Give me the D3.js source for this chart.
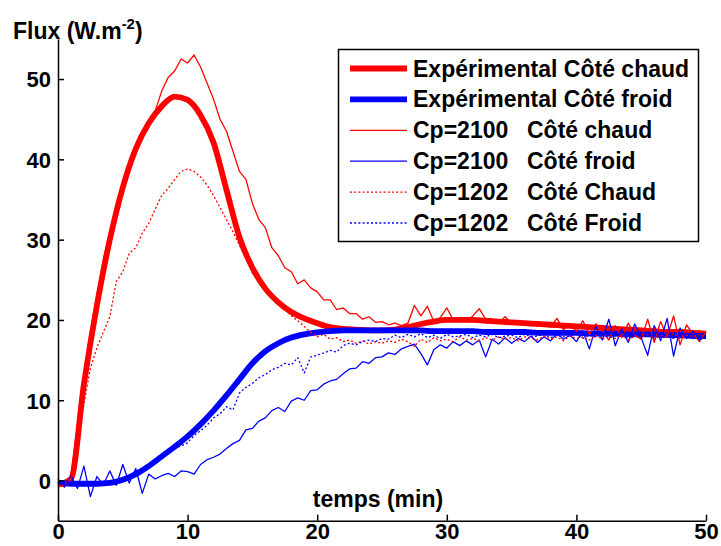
<!DOCTYPE html>
<html><head><meta charset="utf-8">
<script src="https://cdn.jsdelivr.net/npm/d3@7"></script>
<style>
body{margin:0;background:#fff}
text{font-family:"Liberation Sans",Arial,sans-serif;font-weight:bold;fill:#000}
</style>
</head><body>
<svg id="chart" width="721" height="546"></svg>
<script>
// ---------- data ----------
const xTicks = [0, 10, 20, 30, 40, 50];
const yTicks = [0, 10, 20, 30, 40, 50];
const xLabel = "temps (min)";
const yLabel = "Flux (W.m";
const yLabelSup = "-2";

// experimental series, one value per minute (0..50)
const tExp = d3.range(0, 51, 1);
const expHot = [-0.5,0.2,12,21.8,30,36.5,41.3,44.5,46.6,47.8,
  47.4,45.5,42.1,36.2,30.3,26.5,23.9,22.2,21.0,20.2,
  19.6,19.1,18.9,18.8,18.7,18.7,18.8,19.1,19.5,19.8,
  20.0,20.0,20.0,19.9,19.8,19.7,19.6,19.5,19.4,19.3,
  19.2,19.1,19.0,18.9,18.8,18.7,18.6,18.5,18.5,18.4,18.3];
const expCold = [-0.3,-0.4,-0.4,-0.4,-0.3,0.1,0.8,1.8,3.0,4.2,
  5.5,7.0,8.7,10.6,12.6,14.6,16.1,17.1,17.8,18.2,
  18.45,18.6,18.7,18.7,18.7,18.7,18.7,18.7,18.7,18.6,
  18.6,18.6,18.6,18.5,18.5,18.5,18.5,18.4,18.4,18.4,
  18.4,18.3,18.3,18.3,18.2,18.2,18.2,18.1,18.1,18.0,18.0];

// simulated series, one value per half minute (0..50)
const tSim = d3.range(0, 50.25, 0.5);
const cp2100Hot = [-0.5,-0.8,0.5,7,13,18.5,23,27.5,31,33.5,
  36.5,39,41,42.5,44.8,46,48.5,50.2,51,52.5,
  52,53,51.5,49.5,47.5,45,43.5,41,38.5,37.5,
  34.5,32.5,31.5,29,28,26.5,26,24.5,25,24,
  23.5,22.5,22.5,21.3,21.5,20.8,20.8,20.1,20.4,19.7,
  19.8,19.4,19.6,19.3,19.6,21.8,20.5,21.7,19.8,20.3,
  21.5,20.0,20.3,19.8,20.5,21.4,20.1,20.0,19.6,20.4,
  19.5,19.9,19.4,19.8,19.2,19.7,19.1,20.2,18.8,19.4,
  18.6,19.9,18.2,19.5,18.7,17.5,19.3,17.8,19.6,18.1,
  17.6,20.1,17.2,19.8,17.9,20.5,16.9,19.4,18.2,17.3,
  18.5];
const cp2100Cold = [0.2,-0.8,0.6,-1.0,1.8,-2.0,0.5,-0.5,1.2,-0.6,
  2.0,-0.3,1.5,-1.6,0.8,0.2,0.6,0.9,0.5,1.2,
  1.1,0.8,2.0,2.6,2.9,3.3,4.0,4.6,5.0,6.3,
  6.5,7.4,7.8,8.7,9.1,8.6,9.9,10.3,10.0,11.2,
  11.3,12.0,12.4,12.6,13.3,13.9,14.0,14.8,14.6,15.3,
  15.4,15.9,15.7,16.4,16.7,17.0,15.8,14.4,16.3,16.9,
  16.5,17.3,16.8,17.4,16.9,17.5,15.4,17.6,17.0,17.8,
  17.1,17.7,17.3,18.0,17.2,17.9,17.4,18.3,17.6,18.1,
  17.3,18.6,16.4,19.2,17.5,20.1,16.8,18.9,17.2,19.5,
  17.8,15.6,19.3,17.4,20.2,15.5,19.0,17.7,18.6,17.5,
  18.0];
const cp1202Hot = [-0.5,-0.6,0.3,4.5,9.5,14,16.5,18.5,20.4,24.8,
  26.0,28.3,29.0,30.8,32.0,33.8,35.5,36.4,37.5,38.5,
  38.8,38.5,37.8,36.8,35.5,34.0,32.5,31.0,29.3,27.8,
  25.8,24.8,24.2,23.1,22.3,21.4,20.5,19.9,19.2,18.4,
  17.9,18.2,17.6,17.8,17.3,17.5,17.1,17.4,17.0,17.3,
  17.1,17.4,17.2,17.6,17.3,16.7,17.6,17.2,17.8,17.4,
  17.6,17.3,17.9,17.5,17.7,17.4,17.8,17.5,17.9,17.6,
  17.8,17.4,17.9,17.7,17.5,18.0,17.6,17.9,17.4,18.0,
  17.7,17.9,17.5,18.1,17.6,18.0,17.7,18.2,17.5,18.0,
  17.8,18.2,17.6,18.1,17.8,18.3,17.7,18.1,17.9,18.2,
  18.0];
const cp1202Cold = [-0.3,-0.5,-0.3,-0.4,-0.5,-0.4,-0.4,-0.3,-0.3,-0.1,
  0.2,0.6,1.0,1.5,2.0,2.5,3.1,3.6,4.1,4.3,
  4.7,5.6,6.2,6.9,7.8,8.3,9.2,8.8,10.9,11.6,
  12.1,12.8,13.2,13.8,14.1,14.6,14.4,15.3,13.4,15.4,
  15.6,15.9,16.2,16.0,16.8,17.1,16.9,17.3,17.5,17.3,
  17.7,17.6,18.1,17.8,18.2,17.9,18.3,17.8,18.1,17.7,
  18.2,17.9,18.0,18.2,17.8,18.1,17.9,18.2,17.8,18.0,
  18.1,17.8,18.2,17.9,18.0,18.2,17.8,18.1,17.9,18.0,
  18.2,17.7,18.1,17.9,18.2,17.8,18.0,18.1,17.7,18.2,
  17.9,18.1,17.8,18.2,18.0,17.7,18.1,17.9,18.2,18.0,
  18.0];

const seriesNames = ["Expérimental Côté chaud","Expérimental Côté froid",
  "Cp=2100", "Cp=2100", "Cp=1202", "Cp=1202"];
const seriesSides = ["", "", "Côté chaud", "Côté froid", "Côté Chaud", "Côté Froid"];

// ---------- layout / style ----------
const svg = d3.select("#chart");
const x = d3.scaleLinear().domain([0, 50]).range([58, 706]);
const y = d3.scaleLinear().domain([-5, 55]).range([520.7, 38.9]);

const styles = [
  {color:"#ff0000", width:5.8, dash:null},
  {color:"#0000ff", width:5.8, dash:null},
  {color:"#ff0000", width:1.3, dash:null},
  {color:"#0000ff", width:1.3, dash:null},
  {color:"#ff0000", width:1.3, dash:"2,2.2"},
  {color:"#0000ff", width:1.3, dash:"2,2.2"}
];
const series = [
  {t:tExp, v:expHot}, {t:tExp, v:expCold},
  {t:tSim, v:cp2100Hot}, {t:tSim, v:cp2100Cold},
  {t:tSim, v:cp1202Hot}, {t:tSim, v:cp1202Cold}
];

const lineSmooth = d3.line().curve(d3.curveMonotoneX);
const lineRaw = d3.line();

const g = svg.append("g");
series.forEach((s, i) => {
  const pts = s.t.map((t, k) => [x(t), y(s.v[k])]);
  g.append("path")
    .attr("d", (i < 2 ? lineSmooth : lineRaw)(pts))
    .attr("fill", "none")
    .attr("stroke", styles[i].color)
    .attr("stroke-width", styles[i].width)
    .attr("stroke-linejoin", "round")
    .attr("stroke-dasharray", styles[i].dash);
});

// axes
const xAxis = d3.axisBottom(x).tickValues(xTicks).tickSizeInner(-6).tickSizeOuter(0).tickPadding(3);
const yAxis = d3.axisLeft(y).tickValues(yTicks).tickSizeInner(-6).tickSizeOuter(0).tickPadding(7);
const gx = svg.append("g").attr("transform", `translate(0,${y(-5)})`).call(xAxis);
const gy = svg.append("g").attr("transform", `translate(${x(0)},0)`).call(yAxis);
[gx, gy].forEach(a => {
  a.select(".domain").attr("stroke", "#000").attr("stroke-width", 1.5);
  a.selectAll(".tick line").attr("stroke", "#000").attr("stroke-width", 1.5);
  a.selectAll(".tick text").attr("font-size", 22).attr("font-family", null).attr("fill", "#000");
});
gx.selectAll(".tick text").attr("dy", "0.71em");
gy.selectAll(".tick text").attr("dy", "0.36em");

// axis titles
svg.append("text").attr("x", 378).attr("y", 507).attr("text-anchor", "middle")
  .attr("font-size", 23).text(xLabel);
const yl = svg.append("text").attr("x", 13).attr("y", 39).attr("font-size", 23).text(yLabel);
yl.append("tspan").attr("font-size", 15).attr("dy", -10).text(yLabelSup);
yl.append("tspan").attr("font-size", 23).attr("dy", 10).text(")");

// legend
const lg = svg.append("g");
lg.append("rect").attr("x", 338.5).attr("y", 49.5).attr("width", 360).attr("height", 192)
  .attr("fill", "#fff").attr("stroke", "#000").attr("stroke-width", 1.5);
const rowY = d3.scaleLinear().domain([0, 5]).range([68.5, 223]);
seriesNames.forEach((nm, i) => {
  const cy = rowY(i);
  lg.append("line").attr("x1", 350).attr("x2", 407).attr("y1", cy).attr("y2", cy)
    .attr("stroke", styles[i].color).attr("stroke-width", styles[i].width)
    .attr("stroke-dasharray", styles[i].dash);
  lg.append("text").attr("x", 413).attr("y", cy + 8).attr("font-size", 23).text(nm);
  if (seriesSides[i]) {
    lg.append("text").attr("x", 527).attr("y", cy + 8).attr("font-size", 23).text(seriesSides[i]);
  }
});
</script>
</body></html>
